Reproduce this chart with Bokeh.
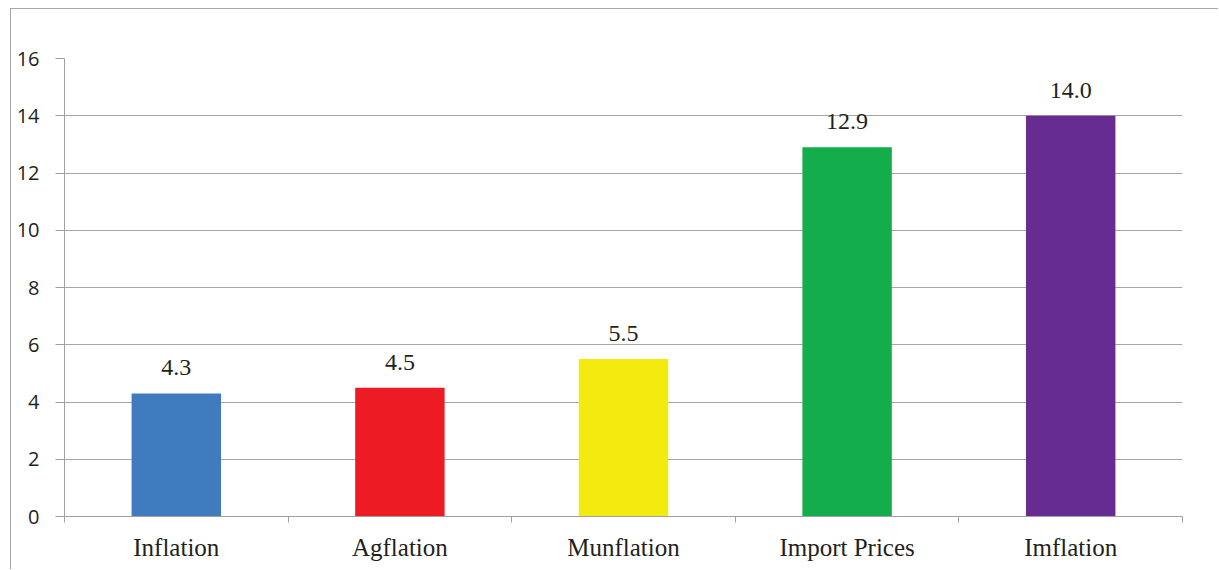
from bokeh.plotting import figure
from bokeh.models import FixedTicker, ColumnDataSource, Range1d, LabelSet
from bokeh.core.properties import value
from bokeh.embed import file_html
from bokeh.resources import INLINE

categories = ["Inflation", "Agflation", "Munflation", "Import Prices", "Imflation"]
values = [4.3, 4.5, 5.5, 12.9, 14.0]
colors = ["#3F7CBF", "#ED1C24", "#F3EA0F", "#13AD4B", "#672C91"]
y_ticks = [0, 2, 4, 6, 8, 10, 12, 14, 16]

positions = [i + 0.5 for i in range(len(categories))]
labels = ["%.1f" % v for v in values]

src = ColumnDataSource(dict(x=positions, top=values, color=colors, label=labels))

SERIF = "Liberation Serif"

W, H = 1208, 561
p = figure(width=W, height=H, output_backend="svg", toolbar_location=None,
           x_range=Range1d(0, len(categories)), y_range=Range1d(0, 16),
           min_border_left=53, min_border_right=37, min_border_top=49, min_border_bottom=54)
p.styles = {"margin-left": "10px", "margin-top": "8px",
            "border-left": "1px solid #A6A6A6", "border-top": "1px solid #A6A6A6"}
p.outline_line_color = None
p.background_fill_color = "white"
p.border_fill_color = "white"

p.vbar(x="x", top="top", width=0.4, bottom=0, color="color", source=src, line_color=None)
ls = LabelSet(x="x", y="top", text="label", source=src, text_align="center", text_baseline="bottom",
              y_offset=18, text_font=value(SERIF), text_font_size=value("24px"), text_color="#231F20")
p.add_layout(ls)

# y axis
p.yaxis.ticker = FixedTicker(ticks=y_ticks)
p.yaxis.axis_line_color = "#A0A0A0"
p.yaxis.major_tick_line_color = "#A0A0A0"
p.yaxis.major_tick_out = 9
p.yaxis.major_tick_in = 0
p.yaxis.minor_tick_line_color = None
p.yaxis.major_label_standoff = 16
p.yaxis.major_label_text_font = "Open Sans"
p.yaxis.major_label_text_font_size = "20px"
p.yaxis.major_label_text_color = "#231F20"

# x axis: labels at centers, ticks at boundaries
p.xaxis.ticker = FixedTicker(ticks=positions, minor_ticks=list(range(len(categories) + 1)))
p.xaxis.major_label_overrides = {pos: c for pos, c in zip(positions, categories)}
p.xaxis.axis_line_color = "#A0A0A0"
p.xaxis.major_tick_line_color = None
p.xaxis.major_tick_out = 0
p.xaxis.major_tick_in = 0
p.xaxis.minor_tick_line_color = "#A0A0A0"
p.xaxis.minor_tick_out = 6
p.xaxis.minor_tick_in = 0
p.xaxis.major_label_standoff = 11
p.xaxis.major_label_text_font = SERIF
p.xaxis.major_label_text_font_size = "25px"
p.xaxis.major_label_text_color = "#231F20"

p.xgrid.grid_line_color = None
p.ygrid.ticker = FixedTicker(ticks=y_ticks)
p.ygrid.grid_line_color = "#A6A6A6"
p.ygrid.grid_line_width = 1

open("out.html", "w").write(file_html(p, INLINE))
